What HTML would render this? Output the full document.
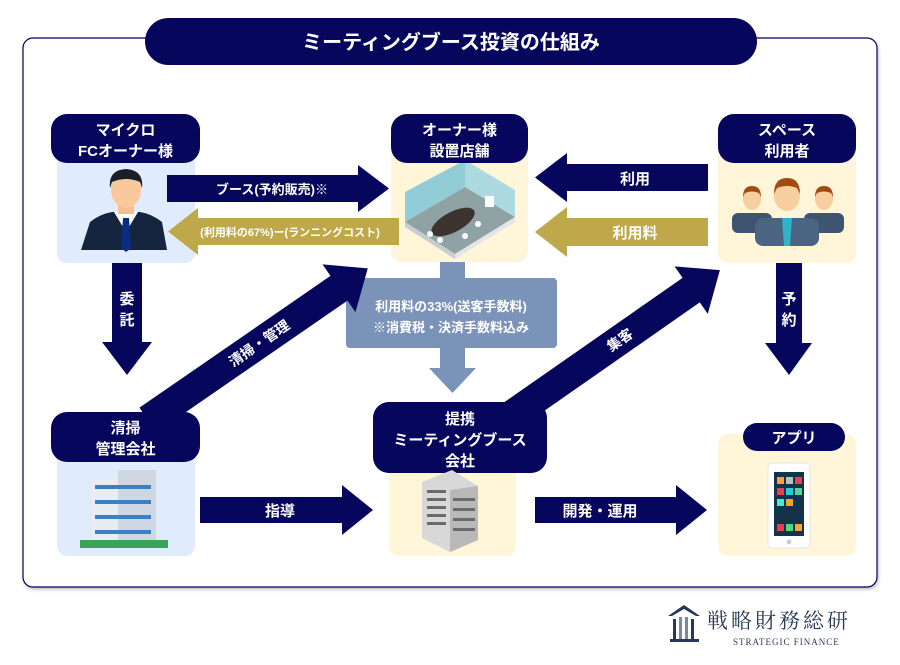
<!DOCTYPE html>
<html><head><meta charset="utf-8"><style>
body{margin:0;width:900px;height:665px;background:#fff;position:relative;overflow:hidden;font-family:"Liberation Sans","Noto Sans CJK JP",sans-serif;}
.a{position:absolute;}
</style></head><body>
<svg class="a" style="left:0;top:0" width="900" height="665" viewBox="0 0 900 665" font-family="Liberation Sans, Noto Sans CJK JP, sans-serif" font-weight="bold">
<defs><filter id="sh" x="-5%" y="-5%" width="110%" height="110%"><feDropShadow dx="1" dy="2" stdDeviation="1.5" flood-color="#000" flood-opacity="0.25"/></filter></defs>
<rect x="23" y="38" width="854" height="549" rx="10" fill="#fff" stroke="#06065c" stroke-width="1.2" filter="url(#sh)"/>
<rect x="145" y="18" width="612" height="47" rx="23.5" fill="#06065c"/>
<text x="451" y="49" fill="#fff" font-size="20" text-anchor="middle">ミーティングブース投資の仕組み</text>

<!-- panels -->
<rect x="57" y="140" width="138" height="123" rx="10" fill="#e0ecfb"/>
<rect x="391" y="140" width="137" height="122" rx="10" fill="#fff6d9"/>
<rect x="718" y="140" width="138" height="123" rx="10" fill="#fff6d9"/>
<rect x="57" y="440" width="138" height="116" rx="10" fill="#e0ecfb"/>
<rect x="389" y="465" width="127" height="91" rx="10" fill="#fff6d9"/>
<rect x="718" y="434" width="138" height="122" rx="10" fill="#fff6d9"/>

<!-- meeting room -->
<g transform="translate(0,12)">
<polygon points="405,210 465,175 515,205 455,242" fill="#8fa3a5"/>
<polygon points="405,210 455,242 455,247 405,215" fill="#c7ccce"/>
<polygon points="455,242 515,205 515,210 455,247" fill="#e3e5e6"/>
<polygon points="405,210 405,180 465,148 465,175" fill="#7fc6d6" opacity="0.85"/>
<polygon points="465,148 515,178 515,205 465,175" fill="#9fd4e0" opacity="0.85"/>
<ellipse cx="453" cy="210" rx="24" ry="10" transform="rotate(-28 453 210)" fill="#3d3331"/>
<circle cx="430" cy="222" r="3" fill="#fff"/><circle cx="440" cy="228" r="3" fill="#fff"/><circle cx="465" cy="224" r="3" fill="#fff"/><circle cx="478" cy="212" r="3" fill="#fff"/>
<rect x="485" y="184" width="9" height="11" fill="#fff"/>
</g>

<!-- pills -->
<rect x="51" y="114" width="149" height="49" rx="16" fill="#06065c"/>
<text x="125.5" y="135" fill="#fff" font-size="15" text-anchor="middle">マイクロ</text>
<text x="125.5" y="156" fill="#fff" font-size="15" text-anchor="middle">FCオーナー様</text>
<rect x="391" y="114" width="137" height="49" rx="16" fill="#06065c"/>
<text x="459.5" y="135" fill="#fff" font-size="15" text-anchor="middle">オーナー様</text>
<text x="459.5" y="156" fill="#fff" font-size="15" text-anchor="middle">設置店舗</text>
<rect x="718" y="114" width="138" height="49" rx="16" fill="#06065c"/>
<text x="787" y="135" fill="#fff" font-size="15" text-anchor="middle">スペース</text>
<text x="787" y="156" fill="#fff" font-size="15" text-anchor="middle">利用者</text>
<rect x="51" y="412" width="149" height="50" rx="16" fill="#06065c"/>
<text x="125.5" y="433" fill="#fff" font-size="15" text-anchor="middle">清掃</text>
<text x="125.5" y="454" fill="#fff" font-size="15" text-anchor="middle">管理会社</text>
<rect x="373" y="402" width="174" height="71" rx="16" fill="#06065c"/>
<text x="460" y="424" fill="#fff" font-size="15" text-anchor="middle">提携</text>
<text x="460" y="445" fill="#fff" font-size="15" text-anchor="middle">ミーティングブース</text>
<text x="460" y="466" fill="#fff" font-size="15" text-anchor="middle">会社</text>
<rect x="743" y="423" width="102" height="28" rx="14" fill="#06065c"/>
<text x="794" y="443" fill="#fff" font-size="15" text-anchor="middle">アプリ</text>

<!-- horizontal arrows -->
<polygon points="167,175 358,175 358,165 389,188.5 358,212 358,202 167,202" fill="#06065c"/>
<text x="272" y="194" fill="#fff" font-size="13" text-anchor="middle">ブース(予約販売)※</text>
<polygon points="399,218 198,218 198,208 168,231.5 198,255 198,245 399,245" fill="#bfa84a"/>
<text x="290" y="236" fill="#fff" font-size="11" text-anchor="middle">(利用料の67%)ー(ランニングコスト)</text>
<polygon points="708,164 567,164 567,153 535,177.5 567,202 567,191 708,191" fill="#06065c"/>
<text x="635" y="184" fill="#fff" font-size="15" text-anchor="middle">利用</text>
<polygon points="708,218 567,218 567,207 535,232 567,257 567,246 708,246" fill="#bfa84a"/>
<text x="635" y="238" fill="#fff" font-size="15" text-anchor="middle">利用料</text>
<polygon points="200,497 342,497 342,485 373,510 342,535 342,523 200,523" fill="#06065c"/>
<text x="280" y="516" fill="#fff" font-size="15" text-anchor="middle">指導</text>
<polygon points="535,497 676,497 676,485 707,510 676,535 676,523 535,523" fill="#06065c"/>
<text x="600" y="516" fill="#fff" font-size="15" text-anchor="middle">開発・運用</text>

<!-- vertical arrows -->
<polygon points="112,263 142,263 142,342 152,342 127,375 102,342 112,342" fill="#06065c"/>
<text x="127" y="304" fill="#fff" font-size="15" text-anchor="middle">委</text>
<text x="127" y="325" fill="#fff" font-size="15" text-anchor="middle">託</text>
<polygon points="776,263 802,263 802,343 812,343 789,375 765,343 776,343" fill="#06065c"/>
<text x="789" y="304" fill="#fff" font-size="15" text-anchor="middle">予</text>
<text x="789" y="325" fill="#fff" font-size="15" text-anchor="middle">約</text>

<!-- steel blue -->
<rect x="440" y="262" width="25" height="20" fill="#7b93b8"/>
<rect x="346" y="278" width="211" height="70" rx="4" fill="#7b93b8"/>
<polygon points="440,348 465,348 465,368 476,368 452.5,393 429,368 440,368" fill="#7b93b8"/>
<text x="451" y="311" fill="#fff" font-size="13" text-anchor="middle">利用料の33%(送客手数料)</text>
<text x="451" y="332" fill="#fff" font-size="13" text-anchor="middle">※消費税・決済手数料込み</text>

<!-- diagonal arrows -->
<g transform="translate(148,420) rotate(-34.6)">
<polygon points="0,-15 232,-15 232,-29 267,0 232,29 232,15 0,15" fill="#06065c"/>
<text x="135" y="5" fill="#fff" font-size="14" text-anchor="middle">清掃・管理</text>
</g>
<g transform="translate(505,420) rotate(-34.9)">
<polygon points="0,-15 227,-15 227,-29 262,0 227,29 227,15 0,15" fill="#06065c"/>
<text x="140" y="5" fill="#fff" font-size="14" text-anchor="middle">集客</text>
</g>

<!-- person -->
<g>
<path d="M81 250 L90 222 Q100 214 112 212 L140 212 Q152 214 162 222 L167 250 Z" fill="#152540"/>
<path d="M114 212 L126 232 L138 212 Z" fill="#fff"/>
<path d="M123 218 L129 218 L131 248 L126 252 L121 248 Z" fill="#0d2a85"/>
<rect x="118" y="200" width="16" height="14" fill="#f5bf92"/>
<ellipse cx="126" cy="190" rx="15" ry="18" fill="#f9c89b"/>
<path d="M110 188 Q108 170 126 169 Q144 170 142 188 L140 182 Q126 176 112 182 Z" fill="#1a1f2b"/>
</g>
<!-- crowd -->
<g>
<g transform="translate(752,195)"><rect x="-20" y="18" width="40" height="20" rx="6" fill="#3e5470"/><ellipse cx="0" cy="4" rx="9" ry="11" fill="#f7cf9e"/><path d="M-9 2 Q-9 -9 0 -9 Q9 -9 9 2 L7 -2 Q0 -5 -7 -2 Z" fill="#a14a12"/></g>
<g transform="translate(824,195)"><rect x="-20" y="18" width="40" height="20" rx="6" fill="#3e5470"/><ellipse cx="0" cy="4" rx="9" ry="11" fill="#f7cf9e"/><path d="M-9 2 Q-9 -9 0 -9 Q9 -9 9 2 L7 -2 Q0 -5 -7 -2 Z" fill="#a14a12"/></g>
<g transform="translate(787,190)"><rect x="-32" y="28" width="64" height="28" rx="8" fill="#4a6482"/><path d="M-5 28 L5 28 L3 56 L-3 56 Z" fill="#2fb3c9"/><ellipse cx="0" cy="6" rx="13" ry="15" fill="#f7cf9e"/><path d="M-13 4 Q-13 -12 0 -12 Q13 -12 13 4 L10 -2 Q0 -6 -10 -2 Z" fill="#a14a12"/></g>
</g>
<!-- building -->
<g>
<rect x="92" y="480" width="60" height="66" fill="#e8edf2"/>
<rect x="118" y="470" width="38" height="76" fill="#cfd8e2"/>
<rect x="95" y="485" width="56" height="4" fill="#3c7fc4"/><rect x="95" y="500" width="56" height="4" fill="#3c7fc4"/><rect x="95" y="515" width="56" height="4" fill="#3c7fc4"/><rect x="95" y="530" width="56" height="4" fill="#3c7fc4"/>
<rect x="80" y="540" width="88" height="8" fill="#3aa55a"/>
</g>
<!-- office tower -->
<g>
<polygon points="422,482 452,470 478,486 478,540 450,552 422,538" fill="#d8d8d8"/>
<polygon points="450,490 478,486 478,540 450,552" fill="#b9b9b9"/>
<g fill="#6b6b6b"><rect x="427" y="490" width="19" height="3"/><rect x="427" y="498" width="19" height="3"/><rect x="427" y="506" width="19" height="3"/><rect x="427" y="514" width="19" height="3"/><rect x="427" y="522" width="19" height="3"/><rect x="453" y="498" width="22" height="3"/><rect x="453" y="508" width="22" height="3"/><rect x="453" y="518" width="22" height="3"/><rect x="453" y="528" width="22" height="3"/></g>
</g>
<!-- phone -->
<g>
<rect x="768" y="463" width="42" height="85" rx="4" fill="#fff" stroke="#e4e4e4"/>
<rect x="774" y="472" width="30" height="64" fill="#153348"/>
<g><rect x="777" y="477" width="7" height="7" fill="#f4a532"/><rect x="786" y="477" width="7" height="7" fill="#bfbfbf"/><rect x="795" y="477" width="7" height="7" fill="#e4404e"/><rect x="777" y="488" width="7" height="7" fill="#e4404e"/><rect x="786" y="488" width="7" height="7" fill="#1fd1d4"/><rect x="795" y="488" width="7" height="7" fill="#4cd68f"/><rect x="777" y="499" width="7" height="7" fill="#3ff0c8"/><rect x="786" y="499" width="7" height="7" fill="#f4a532"/><rect x="777" y="524" width="7" height="7" fill="#e4404e"/><rect x="786" y="524" width="7" height="7" fill="#4cd68f"/><rect x="795" y="524" width="7" height="7" fill="#f4a532"/></g>
<circle cx="789" cy="542" r="2.5" fill="#ccc"/>
</g>

<!-- logo -->
<g>
<polygon points="668,616 684,605 700,616 696,616 684,609 672,616" fill="#27395a"/>
<rect x="673" y="619" width="3" height="20" fill="#27395a"/><rect x="679" y="617" width="3" height="22" fill="#7a8aa0"/><rect x="685" y="617" width="3" height="22" fill="#7a8aa0"/><rect x="691" y="619" width="3" height="20" fill="#27395a"/>
<rect x="670" y="639" width="29" height="3" fill="#27395a"/>
<text x="707" y="628" fill="#2b3a55" font-size="21" font-weight="normal" font-family="Noto Serif CJK SC, serif" letter-spacing="3">戦略財務総研</text>
<text x="733" y="645" fill="#2b3a55" font-size="9" font-weight="normal" font-family="Liberation Serif, serif" letter-spacing="1">STRATEGIC FINANCE</text>
</g>
</svg>
</body></html>
